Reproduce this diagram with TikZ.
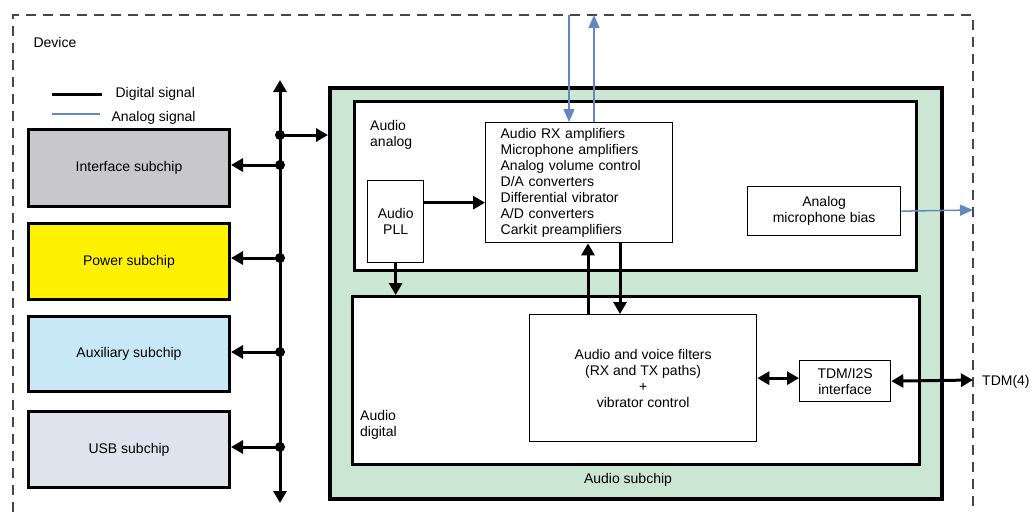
\documentclass[tikz,border=0pt]{standalone}
\usepackage{fontspec}
\setmainfont{Liberation Sans}
\usetikzlibrary{positioning,arrows.meta,calc}
\definecolor{chGray}{RGB}{200,200,202}
\definecolor{chYellow}{RGB}{255,242,0}
\definecolor{chBlue}{RGB}{200,232,248}
\definecolor{chUsb}{RGB}{222,227,237}
\definecolor{auGreen}{RGB}{204,230,212}
\definecolor{anBlue}{RGB}{100,135,190}
\definecolor{devGray}{RGB}{70,70,70}

\begin{document}
\begin{tikzpicture}[x=1pt, y=-1pt, font=\fontsize{14}{16}\selectfont,
  chip/.style={draw, line width=3pt, anchor=north west, inner sep=0pt, align=center},
  blk/.style={draw, line width=1.3pt, fill=white, anchor=north west, inner sep=0pt, align=center},
  dig/.style={line width=3pt, -{Triangle[length=12pt,width=13pt]}},
  digboth/.style={line width=3pt, {Triangle[length=12pt,width=13pt]}-{Triangle[length=12pt,width=13pt]}},
  ana/.style={line width=1.5pt, anBlue, -{Triangle[length=13pt,width=11pt]}}]
\useasboundingbox (0,0) rectangle (1030,512);
% device frame
\draw[devGray, line width=1.8pt, dash pattern=on 10pt off 7pt] (13,512) -- (13,15) -- (973,15) -- (973,512);
\node[anchor=west] (devlbl) at (30,42) {Device};
% legend
\coordinate (lgD1) at (52,94);
\coordinate (lgD2) at (102,94);
\coordinate (lgA1) at (52,114);
\coordinate (lgA2) at (100,114);
\draw[line width=3pt] (lgD1) -- (lgD2);
\draw[line width=1.2pt, anBlue] (lgA1) -- (lgA2);
\node[anchor=west] (lgDtxt) at (112,94) {Digital signal};
\node[anchor=west] (lgAtxt) at (108,118) {Analog signal};
% left chips
\node[chip, fill=chGray, minimum width=201pt, minimum height=77pt] (iface) at (27,128) {Interface subchip};
\node[chip, fill=chYellow, minimum width=201pt, minimum height=76pt] (power) at (27,222) {Power subchip};
\node[chip, fill=chBlue, minimum width=201pt, minimum height=75pt] (aux) at (27,315) {Auxiliary subchip};
\node[chip, fill=chUsb, minimum width=201pt, minimum height=76pt] (usb) at (27,410) {USB subchip};
% audio subchip
\node[chip, line width=4pt, fill=auGreen, minimum width=612pt, minimum height=411pt] (sub) at (328,86) {};
\node (sublbl) at (628,480) {Audio subchip};
\node[chip, fill=white, minimum width=562pt, minimum height=169pt] (analog) at (353,100) {};
\node[anchor=north west, align=left, inner sep=0pt] (analoglbl) at (370,120) {Audio\\analog};
\node[chip, fill=white, minimum width=567pt, minimum height=168pt] (digital) at (351,295) {};
\node[anchor=north west, align=left, inner sep=0pt] (digitallbl) at (360,410) {Audio\\digital};
\node[blk, minimum width=56pt, minimum height=82pt] (pll) at (367,180) {Audio\\PLL};
\node[blk, align=left, inner xsep=15pt, text width=157pt, minimum height=120pt] (amps) at (485,122)
  {Audio RX amplifiers\\Microphone amplifiers\\Analog volume control\\D/A converters\\Differential vibrator\\A/D converters\\Carkit preamplifiers};
\node[blk, minimum width=153pt, minimum height=49pt] (bias) at (747,186) {Analog\\microphone bias};
\node[blk, minimum width=227pt, minimum height=127pt] (filt) at (529,314)
  {Audio and voice filters\\(RX and TX paths)\\+\\vibrator control};
\node[blk, minimum width=91pt, minimum height=41pt] (tdm) at (799,360) {TDM/I2S\\interface};
\node[anchor=west, inner sep=0pt] (tdmlbl) at (982,382) {TDM(4)};
% bus
\coordinate (busTop) at (280,80);
\coordinate (busBot) at (280,503);
\foreach \n/\y in {j1/135,j2/165,j3/258,j4/352,j5/447}
  \coordinate (\n) at (280,\y);
\draw[digboth] (busTop) -- (busBot);
\draw[dig] (j1) -- (j1 -| sub.west);
\draw[dig] (j2) -- (j2 -| iface.east);
\draw[dig] (j3) -- (j3 -| power.east);
\draw[dig] (j4) -- (j4 -| aux.east);
\draw[dig] (j5) -- (j5 -| usb.east);
\foreach \n in {j1,j2,j3,j4,j5}
  \fill (\n) circle (5pt);
% audio paths
\coordinate (pllout) at ($(pll.east)+(0,-19)$);
\draw[dig] (pllout) -- (pllout -| amps.west);
\draw[dig] (pll.south) -- (pll.south |- digital.north);
\coordinate (upx) at (588,0);
\coordinate (dnx) at (620,0);
\draw[dig] (filt.north -| upx) -- (amps.south -| upx);
\draw[dig] (amps.south -| dnx) -- (filt.north -| dnx);
\draw[digboth] (filt.east) -- (filt.east -| tdm.west);
\coordinate (tdmout) at (973,380);
\draw[digboth] (tdm.east) -- (tdmout);
% analog signals
\coordinate (rxin) at (569,15);
\coordinate (txout) at (594,15);
\coordinate (biasout) at (973,210);
\draw[ana] (rxin) -- (rxin |- amps.north);
\draw[ana] (txout |- amps.north) -- (txout);
\draw[ana] (bias.east) -- (biasout);
\end{tikzpicture}
\end{document}
